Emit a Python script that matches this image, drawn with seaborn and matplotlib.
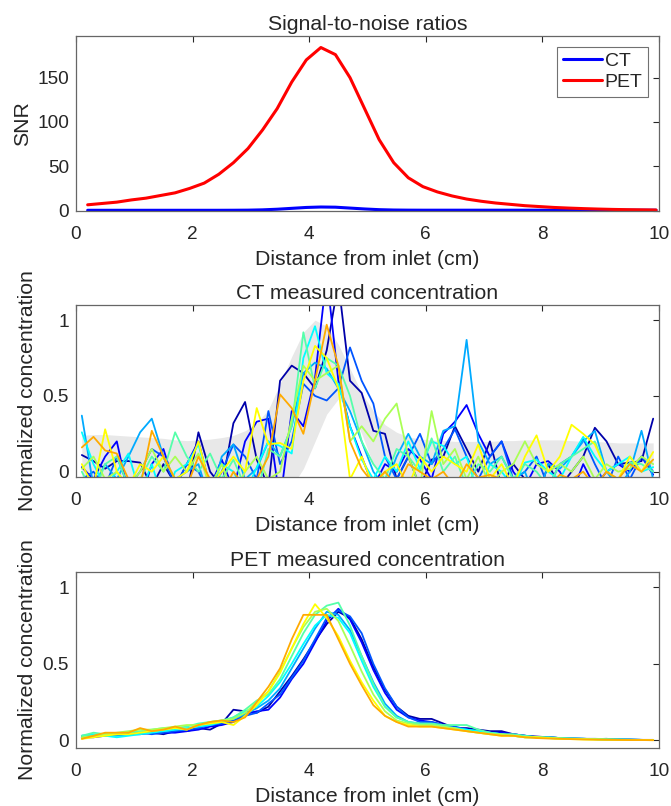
"""SNR and measured concentration profiles (CT vs PET) along the column"""

import numpy as np
import pandas as pd
import matplotlib.pyplot as plt
import seaborn as sns

# ---- data -----------------------------------------------------------------
# SNR sampling (coarser grid)
x_snr = np.arange(0.2, 10.0, 0.25)
snr_pet = [6.5, 8, 9.5, 12, 14, 17, 20, 25, 31, 41,
           54, 70, 91, 115, 145, 170, 184, 176, 150, 115,
           80, 54, 37, 27, 21, 16.5, 13, 10.5, 8.5, 7,
           5.5, 4.5, 3.5, 2.8, 2.2, 1.7, 1.3, 1.0, 0.8, 0.6]
snr_ct = [0.3, 0.3, 0.3, 0.3, 0.3, 0.3, 0.3, 0.3, 0.3, 0.3,
          0.35, 0.45, 0.8, 1.5, 2.5, 3.5, 4.0, 3.8, 2.8, 1.8,
          1.0, 0.6, 0.45, 0.4, 0.4, 0.4, 0.4, 0.4, 0.4, 0.4,
          0.4, 0.4, 0.4, 0.4, 0.4, 0.4, 0.4, 0.4, 0.4, 0.4]

# concentration sampling
x_conc = np.arange(0.1, 10.0, 0.2)

# grey band behind the CT traces
ct_band_hi = [0.24, 0.245, 0.245, 0.24, 0.235, 0.23, 0.225, 0.22, 0.21, 0.205,
              0.21, 0.215, 0.225, 0.24, 0.27, 0.32, 0.41, 0.58, 0.76, 0.92,
              1.0, 0.96, 0.84, 0.68, 0.52, 0.4, 0.31, 0.26, 0.23, 0.215,
              0.21, 0.205, 0.2, 0.2, 0.2, 0.2, 0.205, 0.205, 0.21, 0.21,
              0.21, 0.21, 0.205, 0.2, 0.2, 0.195, 0.19, 0.19, 0.19, 0.19]
ct_band_lo = [-0.2, -0.2, -0.2, -0.2, -0.2, -0.2, -0.2, -0.2, -0.2, -0.2,
              -0.2, -0.2, -0.2, -0.2, -0.2, -0.2, -0.2, -0.2, -0.1, 0.02,
              0.2, 0.38, 0.48, 0.42, 0.25, 0.05, -0.1, -0.2, -0.2, -0.2,
              -0.2, -0.2, -0.2, -0.2, -0.2, -0.2, -0.2, -0.2, -0.2, -0.2,
              -0.2, -0.2, -0.2, -0.2, -0.2, -0.2, -0.2, -0.2, -0.2, -0.2]

ct_runs = [
    [0.11, 0.07, 0.02, 0.07, 0.07, 0.06, -0.1, 0.05, -0.08, -0.15,
     0.26, 0.0, -0.1, 0.32, 0.46, 0.08, -0.1, 0.6, 0.7, 0.65,
     0.55, 0.8, 1.25, 0.6, 0.52, 0.27, 0.25, -0.05, 0.1, -0.1,
     0.08, 0.1, 0.3, 0.15, 0.0, 0.2, -0.1, 0.05, -0.05, -0.2,
     0.05, -0.1, 0.0, 0.1, 0.29, 0.2, 0.05, 0.06, 0.07, 0.35],
    [0.03, -0.05, 0.1, 0.2, -0.15, -0.2, 0.05, 0.15, -0.1, 0.05,
     0.2, -0.1, 0.08, -0.12, 0.2, 0.33, 0.35, -0.2, 0.4, 0.3,
     0.62, 1.3, 0.6, 0.3, 0.1, -0.1, 0.05, 0.0, 0.15, 0.08,
     -0.05, 0.25, 0.33, 0.44, 0.25, 0.1, 0.2, 0.0, -0.1, 0.05,
     0.07, 0.0, -0.15, 0.05, -0.1, 0.0, 0.05, 0.0, 0.1, -0.02],
    [-0.05, 0.0, -0.1, 0.1, -0.1, 0.0, 0.15, 0.1, -0.1, 0.05,
     0.0, -0.15, 0.0, 0.18, 0.1, -0.05, 0.4, 0.05, 0.2, 0.58,
     0.5, 0.47, 0.55, 0.82, 0.6, 0.45, 0.1, -0.05, 0.1, 0.25,
     0.05, 0.15, 0.28, 0.1, -0.05, 0.1, 0.2, -0.05, 0.0, 0.1,
     -0.1, 0.05, 0.1, 0.22, 0.05, -0.1, 0.1, -0.05, 0.1, 0.0],
    [0.37, -0.1, 0.05, -0.05, 0.1, 0.26, 0.35, 0.1, -0.05, 0.0,
     0.05, -0.2, 0.1, 0.18, -0.05, 0.02, 0.2, 0.1, 0.3, 0.65,
     0.72, 0.68, 0.55, 0.4, 0.2, 0.0, -0.1, 0.1, 0.25, 0.1,
     0.05, 0.27, 0.3, 0.87, 0.2, 0.05, 0.1, -0.05, 0.0, -0.2,
     0.05, 0.02, 0.1, 0.2, 0.27, 0.0, -0.1, 0.0, 0.27, -0.05],
    [0.26, 0.05, -0.1, 0.0, 0.12, -0.15, 0.05, -0.2, 0.0, 0.05,
     0.18, -0.1, 0.05, 0.0, -0.15, 0.03, 0.2, 0.17, 0.12, 0.75,
     0.96, 0.65, 0.58, 0.3, 0.08, -0.05, 0.1, 0.0, 0.2, 0.02,
     0.2, 0.17, 0.05, 0.1, -0.15, 0.05, 0.0, -0.1, 0.06, 0.08,
     0.0, -0.05, 0.1, 0.23, 0.1, 0.0, 0.05, 0.1, 0.0, 0.03],
    [0.0, -0.15, 0.05, 0.1, -0.1, -0.05, 0.1, 0.0, 0.26, 0.1,
     0.0, 0.12, -0.05, 0.08, -0.1, -0.15, 0.15, 0.1, 0.3, 0.92,
     0.55, 0.75, 0.7, 0.5, 0.2, 0.05, -0.05, 0.15, 0.1, 0.0,
     0.22, 0.0, 0.1, -0.1, 0.05, 0.0, 0.1, -0.05, 0.05, 0.0,
     -0.1, 0.05, 0.1, 0.15, 0.2, 0.0, -0.05, 0.06, 0.05, 0.0],
    [0.02, 0.1, -0.05, 0.0, -0.1, 0.0, 0.15, 0.0, 0.1, 0.0,
     0.12, -0.1, 0.05, -0.15, 0.0, 0.1, -0.05, 0.0, 0.35, 0.7,
     0.6, 0.65, 0.7, 0.2, 0.3, 0.2, 0.35, 0.45, 0.1, -0.1,
     0.4, 0.05, 0.15, -0.05, 0.1, -0.1, 0.0, 0.05, 0.2, 0.05,
     0.0, 0.05, 0.0, 0.1, -0.05, 0.05, 0.0, 0.02, 0.1, 0.05],
    [0.05, -0.1, 0.28, 0.0, -0.1, 0.05, 0.0, 0.1, -0.05, 0.0,
     0.2, -0.1, 0.0, 0.1, 0.0, 0.42, 0.18, 0.19, 0.15, 0.6,
     0.83, 0.75, 0.55, -0.05, 0.1, -0.1, 0.0, 0.05, -0.1, 0.1,
     0.0, 0.1, 0.05, 0.0, 0.18, -0.05, 0.05, -0.1, 0.1, 0.24,
     0.0, 0.1, 0.31, 0.25, 0.18, 0.0, -0.05, 0.1, 0.0, 0.13],
    [0.16, 0.23, 0.14, 0.12, -0.05, -0.1, 0.27, 0.1, -0.05, -0.1,
     0.1, -0.05, -0.15, 0.0, -0.1, -0.05, 0.1, 0.51, 0.42, 0.25,
     0.6, 0.97, 0.7, 0.2, 0.02, -0.08, 0.0, -0.1, 0.05, 0.0,
     -0.05, 0.0, -0.1, 0.05, -0.04, -0.02, -0.05, -0.1, -0.1, -0.05,
     -0.1, -0.02, -0.05, 0.0, -0.1, 0.0, -0.05, 0.05, 0.0, 0.08],
]

pet_runs = [
    [0.02, 0.03, 0.04, 0.04, 0.04, 0.05, 0.05, 0.04, 0.06, 0.06,
     0.08, 0.07, 0.11, 0.2, 0.19, 0.18, 0.22, 0.32, 0.42, 0.53,
     0.65, 0.76, 0.84, 0.8, 0.66, 0.48, 0.33, 0.22, 0.16, 0.14,
     0.14, 0.11, 0.08, 0.08, 0.07, 0.06, 0.06, 0.04, 0.03, 0.025,
     0.02, 0.015, 0.012, 0.01, 0.008, 0.01, 0.005, 0.005, 0.003, 0.003],
    [0.02, 0.02, 0.03, 0.04, 0.04, 0.04, 0.05, 0.05, 0.05, 0.06,
     0.07, 0.09, 0.1, 0.12, 0.17, 0.19, 0.2, 0.28, 0.4, 0.5,
     0.64, 0.78, 0.86, 0.79, 0.64, 0.46, 0.31, 0.2, 0.15, 0.13,
     0.12, 0.1, 0.08, 0.07, 0.06, 0.05, 0.05, 0.04, 0.03, 0.02,
     0.02, 0.015, 0.01, 0.01, 0.008, 0.006, 0.005, 0.004, 0.003, 0.003],
    [0.03, 0.03, 0.03, 0.04, 0.05, 0.05, 0.04, 0.05, 0.06, 0.07,
     0.08, 0.1, 0.11, 0.13, 0.16, 0.18, 0.24, 0.3, 0.41, 0.52,
     0.66, 0.8, 0.85, 0.81, 0.7, 0.5, 0.34, 0.22, 0.15, 0.12,
     0.12, 0.1, 0.09, 0.07, 0.06, 0.05, 0.04, 0.04, 0.03, 0.02,
     0.02, 0.015, 0.012, 0.01, 0.01, 0.008, 0.006, 0.004, 0.003, 0.002],
    [0.02, 0.03, 0.03, 0.03, 0.04, 0.05, 0.06, 0.06, 0.07, 0.07,
     0.1, 0.11, 0.12, 0.14, 0.17, 0.21, 0.26, 0.34, 0.47, 0.6,
     0.73, 0.84, 0.82, 0.72, 0.55, 0.38, 0.24, 0.16, 0.12, 0.11,
     0.1, 0.09, 0.08, 0.07, 0.06, 0.05, 0.04, 0.03, 0.03, 0.02,
     0.02, 0.015, 0.012, 0.01, 0.008, 0.006, 0.005, 0.004, 0.003, 0.002],
    [0.03, 0.04, 0.03, 0.02, 0.03, 0.04, 0.05, 0.06, 0.07, 0.08,
     0.09, 0.1, 0.12, 0.15, 0.19, 0.22, 0.29, 0.38, 0.5, 0.63,
     0.75, 0.82, 0.8, 0.7, 0.52, 0.35, 0.22, 0.15, 0.12, 0.1,
     0.1, 0.09, 0.08, 0.07, 0.06, 0.05, 0.04, 0.03, 0.02, 0.02,
     0.015, 0.012, 0.01, 0.01, 0.008, 0.006, 0.005, 0.004, 0.003, 0.002],
    [0.03, 0.05, 0.04, 0.04, 0.05, 0.06, 0.07, 0.08, 0.08, 0.09,
     0.11, 0.12, 0.13, 0.15, 0.2, 0.26, 0.3, 0.4, 0.55, 0.7,
     0.82, 0.88, 0.9, 0.75, 0.55, 0.37, 0.22, 0.15, 0.12, 0.11,
     0.11, 0.1, 0.1, 0.1, 0.07, 0.05, 0.04, 0.04, 0.03, 0.02,
     0.02, 0.015, 0.012, 0.01, 0.008, 0.006, 0.005, 0.004, 0.003, 0.002],
    [0.02, 0.03, 0.04, 0.05, 0.06, 0.07, 0.07, 0.08, 0.09, 0.1,
     0.1, 0.12, 0.13, 0.14, 0.18, 0.25, 0.32, 0.45, 0.6, 0.74,
     0.84, 0.86, 0.78, 0.62, 0.45, 0.3, 0.19, 0.13, 0.11, 0.1,
     0.1, 0.09, 0.08, 0.06, 0.05, 0.04, 0.04, 0.03, 0.02, 0.02,
     0.015, 0.012, 0.01, 0.008, 0.006, 0.005, 0.004, 0.003, 0.002, 0.002],
    [0.01, 0.02, 0.03, 0.04, 0.04, 0.05, 0.06, 0.07, 0.08, 0.07,
     0.1, 0.11, 0.12, 0.1, 0.16, 0.23, 0.32, 0.44, 0.6, 0.76,
     0.89, 0.8, 0.68, 0.52, 0.38, 0.26, 0.16, 0.12, 0.1, 0.09,
     0.09, 0.08, 0.07, 0.06, 0.05, 0.04, 0.03, 0.03, 0.02, 0.02,
     0.015, 0.01, 0.008, 0.006, 0.005, 0.004, 0.003, 0.002, 0.002, 0.001],
    [0.01, 0.03, 0.05, 0.05, 0.05, 0.08, 0.06, 0.07, 0.09, 0.07,
     0.1, 0.12, 0.13, 0.12, 0.15, 0.25, 0.35, 0.47, 0.66, 0.82,
     0.82, 0.82, 0.66, 0.5, 0.36, 0.23, 0.16, 0.12, 0.09, 0.09,
     0.09, 0.08, 0.07, 0.06, 0.05, 0.04, 0.03, 0.03, 0.02, 0.015,
     0.012, 0.01, 0.008, 0.006, 0.005, 0.004, 0.003, 0.002, 0.002, 0.001],
]

# first nine colours of MATLAB jet(10)
run_colors = [(0, 0, 0.667), (0, 0, 1), (0, 0.333, 1), (0, 0.667, 1), (0, 1, 1),
              (0.333, 1, 0.667), (0.667, 1, 0.333), (1, 1, 0), (1, 0.667, 0)]

# ---- long tables for seaborn ---------------------------------------------
df_snr = pd.DataFrame({
    'x': np.concatenate([x_snr, x_snr]),
    'snr': snr_ct + snr_pet,
    'mod': ['CT'] * len(x_snr) + ['PET'] * len(x_snr),
})


def runs_to_df(runs):
    rows = []
    for i, r in enumerate(runs):
        rows.append(pd.DataFrame({'x': x_conc, 'c': r, 'run': i}))
    return pd.concat(rows, ignore_index=True)


df_ct = runs_to_df(ct_runs)
df_pet = runs_to_df(pet_runs)

# ---- figure ---------------------------------------------------------------
sns.set_theme(style='white')
plt.rcParams['font.family'] = ['Liberation Sans', 'DejaVu Sans']
plt.rcParams['text.color'] = '#262626'

W, H = 671, 806
fig = plt.figure(figsize=(W / 100, H / 100), dpi=100)


def px_axes(top, bottom, left=76, right=659):
    return fig.add_axes([left / W, 1 - bottom / H, (right - left) / W, (bottom - top) / H])


ax1 = px_axes(36, 211)
ax2 = px_axes(305, 477)
ax3 = px_axes(572, 748)

sns.lineplot(data=df_snr, x='x', y='snr', hue='mod', palette={'CT': 'blue', 'PET': 'red'},
             linewidth=2.2, ax=ax1, estimator=None)
ax1.set_ylim(-0.5, 197)
ax1.set_yticks([0, 50, 100, 150])
ax1.set_ylabel('SNR')
ax1.set_title('Signal-to-noise ratios')
leg = ax1.legend(loc='upper right', fontsize=14, frameon=True, fancybox=False,
                 handlelength=2.0, handletextpad=0.15, borderpad=0.3,
                 labelspacing=0.15, borderaxespad=0.55)
leg.get_frame().set_edgecolor('0.3')
leg.get_frame().set_linewidth(0.8)

ax2.fill_between(x_conc, ct_band_lo, ct_band_hi, color='0.91', linewidth=0)
sns.lineplot(data=df_ct, x='x', y='c', hue='run', palette=run_colors, legend=False,
             linewidth=1.3, ax=ax2, estimator=None)
ax2.set_ylim(-0.035, 1.1)
ax2.set_title('CT measured concentration')
ax2.set_ylabel('Normalized concentration')

sns.lineplot(data=df_pet, x='x', y='c', hue='run', palette=run_colors, legend=False,
             linewidth=1.3, ax=ax3, estimator=None)
ax3.set_ylim(-0.05, 1.1)
ax3.set_title('PET measured concentration')
ax3.set_ylabel('Normalized concentration')

for ax in (ax1, ax2, ax3):
    ax.set_xlim(0, 10)
    ax.set_xticks([0, 2, 4, 6, 8, 10])
    if ax is not ax1:
        ax.set_yticks([0, 0.5, 1])
        ax.set_yticklabels(['0', '0.5', '1'])
    ax.set_xlabel('Distance from inlet (cm)', fontsize=15.3, labelpad=5)
    ax.yaxis.label.set_size(15.3)
    ax.set_title(ax.get_title(), fontsize=15.3, pad=4)
    ax.tick_params(direction='in', top=True, right=True, length=4, width=0.8,
                   colors='#262626', labelsize=13.7)
    ax.tick_params(axis='x', pad=11)
    ax.tick_params(axis='y', pad=5)
    for s in ax.spines.values():
        s.set_visible(True)
        s.set_color('0.4')
        s.set_linewidth(0.9)

fig.savefig('out.png', dpi=100)
